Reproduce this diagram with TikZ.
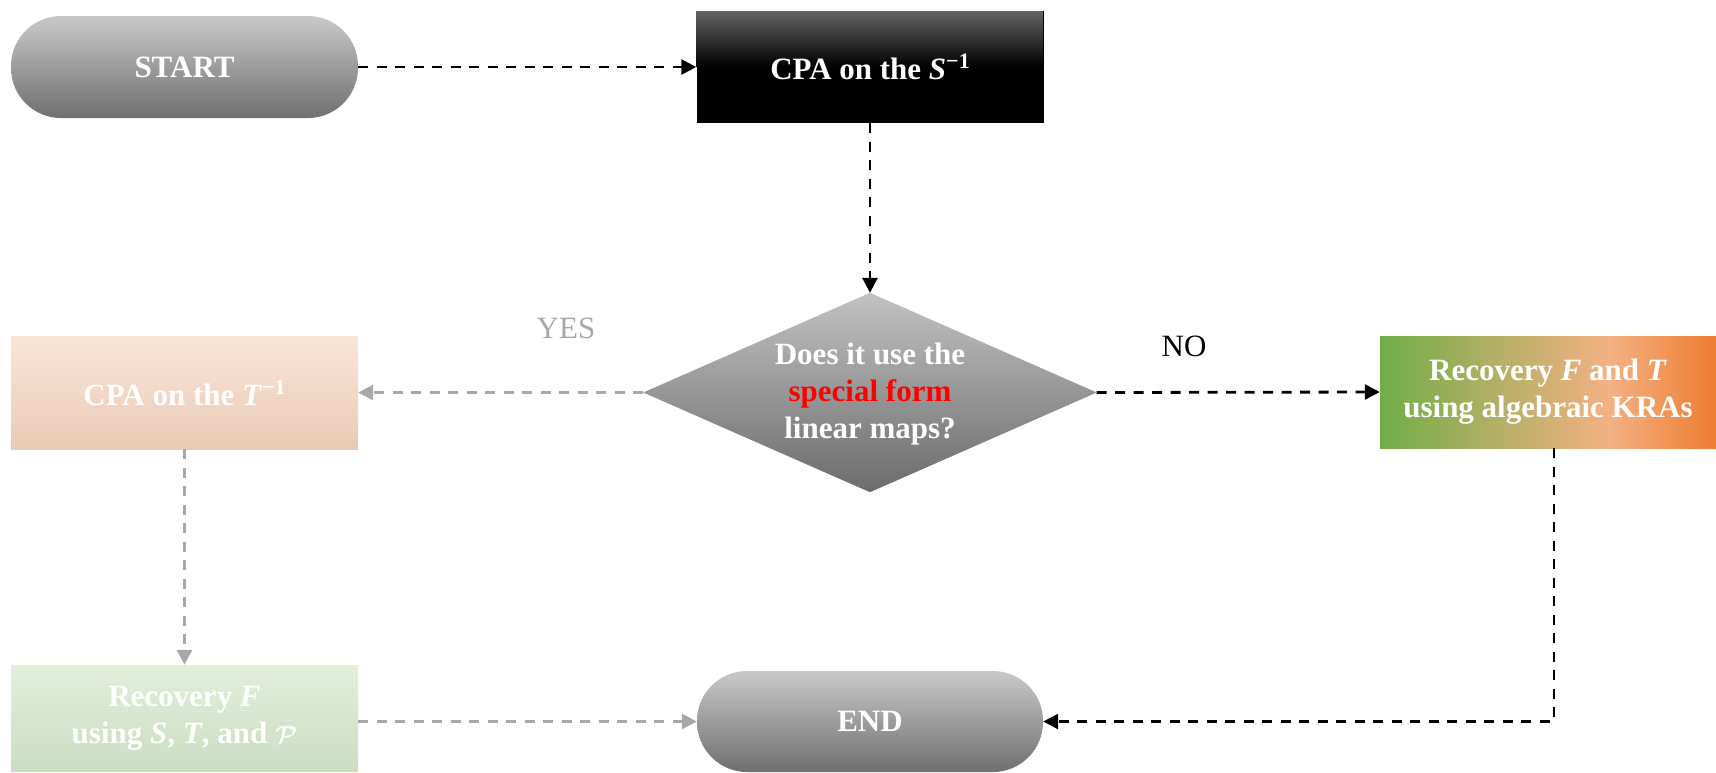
\documentclass[tikz,border=0pt]{standalone}
\usepackage{fontspec}
\setmainfont{Liberation Serif}
\usetikzlibrary{arrows.meta}

\definecolor{termtop}{HTML}{C9C9C9}
\definecolor{termbot}{HTML}{6F6F6F}
\definecolor{dectop}{HTML}{C2C2C2}
\definecolor{decbot}{HTML}{6B6B6B}
\definecolor{capgray}{HTML}{646464}
\definecolor{peachtop}{HTML}{FBE5D7}
\definecolor{peachbot}{HTML}{E9CAB5}
\definecolor{minttop}{HTML}{E2EFDA}
\definecolor{mintbot}{HTML}{CADDC1}
\definecolor{kragreen}{HTML}{70AD47}
\definecolor{krapeach}{HTML}{F4B183}
\definecolor{kraorange}{HTML}{ED7D31}
\definecolor{fadegray}{HTML}{A8A8A8}
\definecolor{alertred}{HTML}{FF0000}

% green to peach to orange, left to right
\pgfdeclarehorizontalshading{kra}{100bp}{color(0bp)=(kragreen); color(25bp)=(kragreen); color(59bp)=(krapeach); color(75bp)=(kraorange); color(100bp)=(kraorange)}

\newcommand\supinv[1]{\raisebox{11pt}{\fontsize{22}{22}\selectfont #1}}

\begin{document}
\begin{tikzpicture}[x=1pt,y=-1pt,
  lbl/.style={text=white, font=\fontsize{31}{37}\selectfont\bfseries, align=center, inner sep=0pt},
  term/.style={lbl, rounded corners=50pt, minimum width=347pt, minimum height=102pt,
               top color=termtop, bottom color=termbot},
  box/.style={lbl, minimum width=347pt, minimum height=112pt},
  flow/.style={dash pattern=on 10pt off 8.5pt, line width=2.8pt,
               -{Triangle[length=15pt,width=15pt]}},
  solidflow/.style={flow, draw=black},
  fadeflow/.style={flow, draw=fadegray},
  note/.style={font=\fontsize{31}{37}\selectfont, inner sep=0pt}
]
\useasboundingbox (0,0) rectangle (1716,772);

% terminals
\node[term] (start) at (184.5,67) {START};
\node[term, minimum width=346pt, minimum height=101pt] (end) at (870,721.5) {END};

% black process box whose grey top fades to black by mid-height
\node[box, fill=black] (cpas) at (870,67) {};
\foreach \i in {0,...,55}{
  \pgfmathsetmacro\capmix{100-\i*100/56}
  \fill[capgray!\capmix!black] (cpas.north west) ++(0,\i) rectangle ++(347,1.6);
}
\node[lbl] (cpastext) at (cpas.center) {CPA on the \textit{S}\supinv{−1}};

% other process boxes
\node[box, minimum height=113pt, top color=peachtop, bottom color=peachbot] (cpat) at (184.5,392.5) {CPA on the \textit{T}\supinv{−1}};
\node[box, minimum width=336pt, shade, shading=kra] (kra) at (1548,392) {Recovery \textit{F} and \textit{T}\\using algebraic KRAs};
\node[box, minimum height=106pt, top color=minttop, bottom color=mintbot] (recf) at (184.5,718) {Recovery \textit{F}\\using \textit{S}, \textit{T}, and {\boldmath$\mathcal{P}$}};

% decision diamond
\node[minimum width=453pt, minimum height=199pt, inner sep=0pt] (dec) at (870,392.5) {};
\shade[top color=dectop, bottom color=decbot] (dec.north) -- (dec.east) -- (dec.south) -- (dec.west) -- cycle;
\node[lbl] (dectext) at (870,394) {Does it use the\\\textcolor{alertred}{special form}\\linear maps?};

% connectors
\draw[solidflow] (start) -- (cpas);
\draw[solidflow] (cpas.south) -- (dec.north);
\draw[solidflow] (dec.east) -- (kra.west);
\draw[solidflow] ([xshift=6pt]kra.south) |- (end.east);
\draw[fadeflow] (dec.west) -- (cpat.east);
\draw[fadeflow] (cpat.south) -- (recf.north);
\draw[fadeflow] (recf.east |- end.west) -- (end.west);

% branch labels
\node[note, text=fadegray] (yes) at (566,328) {YES};
\node[note, text=black] (no) at (1184,346) {NO};
\end{tikzpicture}
\end{document}
